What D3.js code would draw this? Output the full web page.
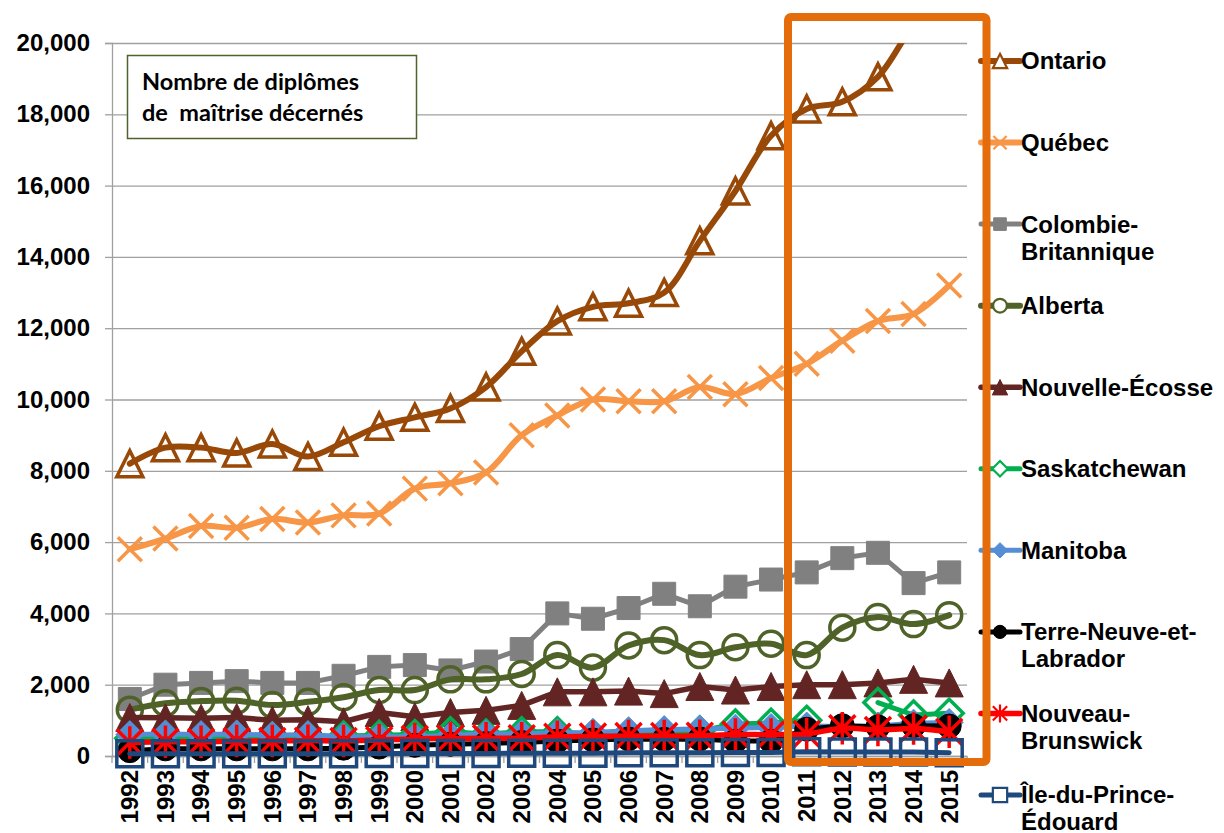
<!DOCTYPE html>
<html>
<head>
<meta charset="utf-8">
<script src="https://cdn.jsdelivr.net/npm/d3@7"></script>
<style>
  body { margin: 0; background: #fff; }
  svg { display: block; font-family: "Liberation Sans", Arial, sans-serif; }
</style>
</head>
<body>
<svg id="chart" width="1224" height="833"></svg>
<script>
// DATA
var years = ['1992','1993','1994','1995','1996','1997','1998','1999','2000','2001','2002','2003',
             '2004','2005','2006','2007','2008','2009','2010','2011','2012','2013','2014','2015'];
var yTicks = [0, 2000, 4000, 6000, 8000, 10000, 12000, 14000, 16000, 18000, 20000];

var ontario = [8200, 8650, 8650, 8500, 8750, 8400, 8800, 9250, 9500, 9750, 10350, 11350,
               12200, 12600, 12700, 13000, 14450, 15850, 17400, 18150, 18350, 19050, 20500, 21500];
var quebec = [5800, 6100, 6450, 6400, 6650, 6550, 6750, 6800, 7500, 7650, 7950, 9000,
              9550, 10000, 9950, 9950, 10350, 10150, 10600, 11000, 11650, 12200, 12400, 13200];
var colombie = [1600, 2000, 2050, 2100, 2050, 2050, 2250, 2500, 2550, 2400, 2650, 3000,
                4000, 3850, 4150, 4550, 4200, 4750, 4950, 5150, 5550, 5700, 4850, 5150];
var alberta = [1300, 1480, 1540, 1550, 1430, 1520, 1650, 1850, 1850, 2150, 2150, 2300,
               2830, 2480, 3100, 3250, 2830, 3050, 3150, 2830, 3600, 3900, 3700, 3950];
var nouvelleEcosse = [1080, 1070, 1060, 1080, 1000, 1020, 960, 1220, 1100, 1220, 1280, 1420,
                      1800, 1800, 1820, 1750, 1950, 1850, 1950, 2000, 2000, 2050, 2150, 2050];
var saskatchewan = [500, 520, 520, 540, 530, 540, 560, 580, 600, 680, 620, 680,
                    680, 600, 620, 640, 700, 900, 920, 1000, null, 1500, 1150, 1200];
var manitoba = [600, 620, 600, 620, 580, 600, 540, 540, 540, 580, 620, 620,
                650, 660, 710, 740, 760, 780, 800, 840, 830, 840, 920, 940];
var terreNeuve = [150, 200, 200, 200, 200, 200, 220, 250, 300, 330, 350, 380,
                  420, 450, 480, 470, 480, 420, 420, 750, 850, 820, 850, 840];
var nouveauBrunswick = [380, 400, 400, 420, 420, 430, 420, 450, 480, 490, 500, 500,
                        540, 550, 560, 560, 570, 600, 600, 620, 780, 730, 770, 680];
var ilePEI = [60, 60, 60, 60, 60, 60, 60, 70, 70, 70, 70, 80,
              80, 80, 90, 90, 90, 100, 100, 120, 110, 110, 110, 90];

var legendNames = ['Ontario', 'Québec', 'Colombie-\nBritannique', 'Alberta', 'Nouvelle-Écosse',
                   'Saskatchewan', 'Manitoba', 'Terre-Neuve-et-\nLabrador', 'Nouveau-\nBrunswick',
                   'Île-du-Prince-\nÉdouard'];

// Series styles
var series = [
    {values: ontario,          color: '#984807', width: 6,   marker: 'triangle', r: 13,   fill: false, smooth: true},
    {values: quebec,           color: '#F79646', width: 6,   marker: 'x',        r: 12,   fill: false, smooth: true},
    {values: colombie,         color: '#808080', width: 5,   marker: 'square',   r: 11.5, fill: true,  smooth: false},
    {values: alberta,          color: '#4F6228', width: 6,   marker: 'circle',   r: 12.5, fill: false, smooth: true},
    {values: nouvelleEcosse,   color: '#632523', width: 5.5, marker: 'triangle', r: 14,   fill: true,  smooth: false},
    {values: saskatchewan,     color: '#00B050', width: 5,   marker: 'diamond',  r: 14,   fill: false, smooth: false},
    {values: manitoba,         color: '#558ED5', width: 5,   marker: 'diamond',  r: 14,   fill: true,  smooth: false},
    {values: terreNeuve,       color: '#000000', width: 5,   marker: 'circle',   r: 12,   fill: true,  smooth: false},
    {values: nouveauBrunswick, color: '#FF0000', width: 5.5, marker: 'star',     r: 13,   fill: false, smooth: true},
    {values: ilePEI,           color: '#1F497D', width: 5,   marker: 'square',   r: 13,   fill: false, smooth: false}
];

var svg = d3.select('#chart');

// SCALES
var x = d3.scaleBand().domain(years).range([112, 967]);
var y = d3.scaleLinear().domain([0, 20000]).range([756, 43]);
var cx = function(d) { return x(d) + x.bandwidth() / 2; };

// Marker shapes
function markerPath(type, r) {
    if (type == 'triangle') return 'M0,' + (-r) + 'L' + r + ',' + r + 'L' + (-r) + ',' + r + 'Z';
    if (type == 'square') return 'M' + (-r) + ',' + (-r) + 'H' + r + 'V' + r + 'H' + (-r) + 'Z';
    if (type == 'diamond') return 'M0,' + (-r) + 'L' + r + ',0L0,' + r + 'L' + (-r) + ',0Z';
    if (type == 'circle') return 'M' + r + ',0A' + r + ',' + r + ' 0 1,1 ' + (-r) + ',0A' + r + ',' + r + ' 0 1,1 ' + r + ',0Z';
    if (type == 'x') return 'M' + (-r) + ',' + (-r) + 'L' + r + ',' + r + 'M' + r + ',' + (-r) + 'L' + (-r) + ',' + r;
    if (type == 'star') return 'M' + (-r) + ',' + (-r) + 'L' + r + ',' + r + 'M' + r + ',' + (-r) + 'L' + (-r) + ',' + r +
                               'M0,' + (-r * 1.25) + 'V' + (r * 1.25);
}

// GRIDLINES
svg.append('g')
    .attr('transform', 'translate(112,0)')
    .call(d3.axisLeft(y).tickValues(yTicks).tickSize(-855).tickFormat(''))
    .call(function(g) {
        g.select('.domain').remove();
        g.selectAll('line').attr('stroke', '#A0A0A0').attr('stroke-width', 1.3);
    });

// Y AXIS
svg.append('g')
    .attr('transform', 'translate(112,0)')
    .call(d3.axisLeft(y).tickValues(yTicks).tickSize(7).tickPadding(15).tickFormat(d3.format(',')))
    .call(function(g) {
        g.select('.domain').attr('stroke', '#A0A0A0').attr('stroke-width', 1.3);
        g.selectAll('line').attr('stroke', '#A0A0A0').attr('stroke-width', 1.3);
        g.selectAll('text').attr('fill', '#000').style('font-size', '24px').style('font-weight', 'bold')
         .style('font-family', '"Liberation Sans", Arial, sans-serif');
    });

// X AXIS
var xAxis = svg.append('g')
    .attr('transform', 'translate(0,756)')
    .call(d3.axisBottom(x).tickSize(0).tickSizeOuter(0))
    .call(function(g) {
        g.select('.domain').attr('stroke', '#A0A0A0').attr('stroke-width', 1.3);
        g.selectAll('text')
         .attr('x', -14).attr('y', 0).attr('dy', '.35em')
         .attr('transform', 'rotate(-90)')
         .style('text-anchor', 'end')
         .attr('fill', '#000').style('font-size', '24px').style('font-weight', 'bold')
         .style('font-family', '"Liberation Sans", Arial, sans-serif');
    });
// small ticks between categories
xAxis.selectAll('line.sep')
    .data(years.concat(['end']))
    .enter()
    .append('line')
    .attr('class', 'sep')
    .attr('x1', function(d, i) { return x.range()[0] + i * x.step(); })
    .attr('x2', function(d, i) { return x.range()[0] + i * x.step(); })
    .attr('y1', 0).attr('y2', 7)
    .attr('stroke', '#A0A0A0').attr('stroke-width', 1.3);

// CLIP (top of the plot area)
svg.append('clipPath').attr('id', 'plotClip')
    .append('rect').attr('x', 0).attr('y', 43).attr('width', 1224).attr('height', 790);

var plot = svg.append('g').attr('clip-path', 'url(#plotClip)');

// LINES + MARKERS
series.forEach(function(s) {
    var pts = years.map(function(yr, i) { return {yr: yr, v: s.values[i]}; });
    var lineGen = d3.line()
        .defined(function(d) { return d.v != null; })
        .x(function(d) { return cx(d.yr); })
        .y(function(d) { return y(d.v); })
        .curve(s.smooth ? d3.curveCatmullRom.alpha(0.5) : d3.curveLinear);

    plot.append('path')
        .attr('d', lineGen(pts))
        .style('fill', 'none')
        .style('stroke', s.color)
        .style('stroke-width', s.width + 'px')
        .style('stroke-linejoin', 'round')
        .style('stroke-linecap', 'round');

    plot.selectAll(null)
        .data(pts.filter(function(d) { return d.v != null; }))
        .enter()
        .append('path')
        .attr('transform', function(d) { return 'translate(' + cx(d.yr) + ',' + y(d.v) + ')'; })
        .attr('d', markerPath(s.marker, s.r))
        .style('fill', s.fill ? s.color : 'none')
        .style('stroke', s.color)
        .style('stroke-width', s.fill ? 1 : 3.5);
});

// TITLE BOX
svg.append('rect')
    .attr('x', 127.5).attr('y', 55.5).attr('width', 289).attr('height', 83)
    .style('fill', '#fff').style('stroke', '#4F6228').style('stroke-width', 1.5);
svg.append('text')
    .attr('x', 142).attr('y', 90)
    .style('font-family', 'Lato, "Open Sans", sans-serif').style('font-weight', 'bold').style('font-size', '23.5px')
    .text('Nombre de diplômes');
svg.append('text')
    .attr('x', 142).attr('y', 121)
    .attr('xml:space', 'preserve').style('white-space', 'pre')
    .style('font-family', 'Lato, "Open Sans", sans-serif').style('font-weight', 'bold').style('font-size', '23.5px')
    .text('de  maîtrise décernés');

// LEGEND
var legend = svg.append('g');
var legendRow = d3.scaleLinear().domain([0, 9]).range([61, 795]);
series.forEach(function(s, i) {
    var ly = legendRow(i);
    var item = legend.append('g').attr('transform', 'translate(0,' + ly + ')');
    item.append('line')
        .attr('x1', 981).attr('x2', 1020).attr('y1', 0).attr('y2', 0)
        .style('stroke', s.color).style('stroke-width', s.width).style('stroke-linecap', 'round');
    item.append('path')
        .attr('transform', 'translate(1000,0)')
        .attr('d', markerPath(s.marker, s.r * 0.55))
        .style('fill', s.fill ? s.color : '#fff')
        .style('stroke', s.color)
        .style('stroke-width', s.fill ? 1 : 2.2);
    var t = item.append('text')
        .attr('x', 1021).attr('y', 0)
        .style('font-size', '24px').style('font-weight', 'bold').attr('fill', '#000');
    legendNames[i].split('\n').forEach(function(line, k) {
        t.append('tspan').attr('x', 1021).attr('y', k * 27).attr('dy', '.35em').text(line);
    });
});

// HIGHLIGHT BOX (2011-2015)
svg.append('rect')
    .attr('x', 788).attr('y', 17).attr('width', 198.5).attr('height', 745).attr('rx', 3)
    .style('fill', 'none').style('stroke', '#E46C0A').style('stroke-width', 8);
</script>
</body>
</html>
